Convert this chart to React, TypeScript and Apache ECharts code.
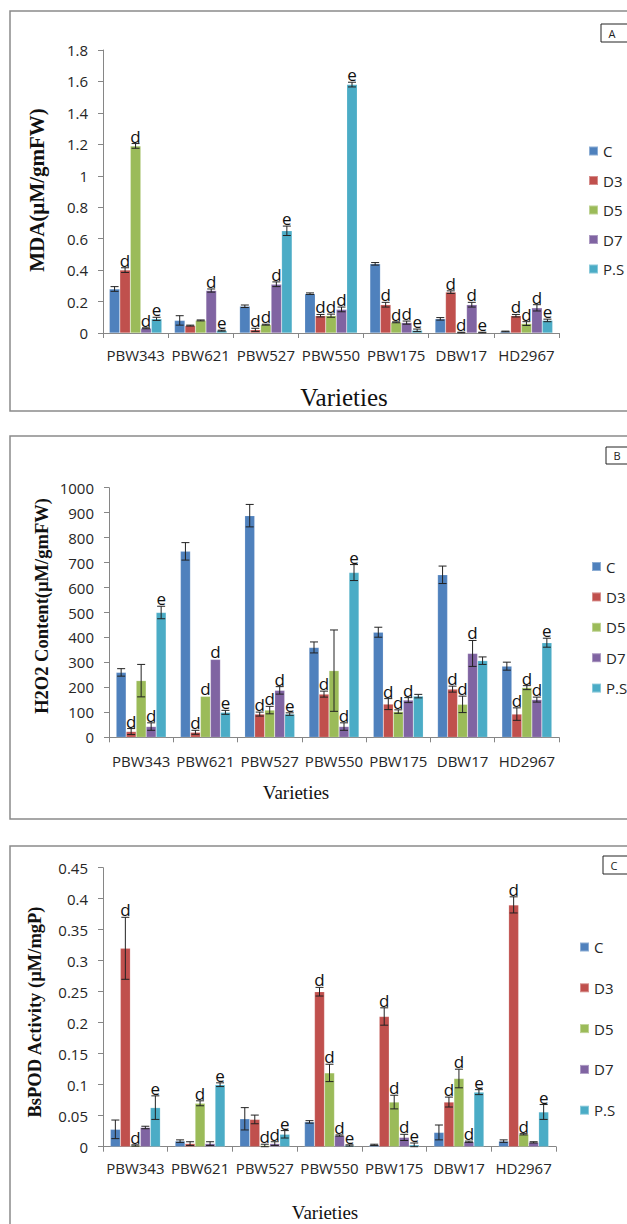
import React, { useEffect, useRef } from "react";
import * as echarts from "echarts";

const categories = ["PBW343", "PBW621", "PBW527", "PBW550", "PBW175", "DBW17", "HD2967"];
const treatments = ["C", "D3", "D5", "D7", "P.S"];
const colors = ["#4F81BD", "#C0504D", "#9BBB59", "#8064A2", "#4BACC6"];

// Panel A: MDA
const mdaC = [0.28, 0.08, 0.17, 0.25, 0.44, 0.09, 0.01];
const mdaD3 = [0.4, 0.047, 0.02, 0.11, 0.18, 0.26, 0.11];
const mdaD5 = [1.19, 0.08, 0.053, 0.11, 0.068, 0.003, 0.06];
const mdaD7 = [0.03, 0.27, 0.31, 0.15, 0.066, 0.18, 0.16];
const mdaPS = [0.09, 0.015, 0.65, 1.58, 0.017, 0.003, 0.08];
const mdaCErr = [0.015, 0.03, 0.008, 0.005, 0.008, 0.008, 0.002];
const mdaD3Err = [0.015, 0.003, 0.01, 0.008, 0.015, 0.008, 0.008];
const mdaD5Err = [0.015, 0.003, 0.003, 0.01, 0.003, 0.002, 0.012];
const mdaD7Err = [0.003, 0.01, 0.015, 0.015, 0.01, 0.015, 0.02];
const mdaPSErr = [0.01, 0.003, 0.03, 0.015, 0.008, 0.002, 0.008];
const mdaCLab = ["", "", "", "", "", "", ""];
const mdaD3Lab = ["d", "", "d", "d", "d", "d", "d"];
const mdaD5Lab = ["d", "", "d", "d", "d", "d", "d"];
const mdaD7Lab = ["d", "d", "d", "d", "d", "d", "d"];
const mdaPSLab = ["e", "e", "e", "e", "e", "e", "e"];

// Panel B: H2O2
const hC = [260, 745, 888, 360, 421, 651, 285];
const hD3 = [23, 20, 93, 173, 133, 193, 93];
const hD5 = [227, 164, 109, 267, 103, 132, 199];
const hD7 = [43, 312, 188, 43, 149, 336, 151];
const hPS = [500, 100, 93, 660, 165, 307, 379];
const hCErr = [15, 35, 45, 22, 20, 35, 16];
const hD3Err = [12, 8, 8, 12, 22, 12, 25];
const hD5Err = [65, 0, 15, 163, 7, 33, 8];
const hD7Err = [15, 0, 15, 15, 10, 52, 10];
const hPSErr = [25, 8, 5, 32, 7, 15, 18];
const hCLab = ["", "", "", "", "", "", ""];
const hD3Lab = ["d", "d", "d", "d", "d", "d", "d"];
const hD5Lab = ["", "d", "d", "", "d", "d", "d"];
const hD7Lab = ["d", "d", "d", "d", "d", "d", "d"];
const hPSLab = ["e", "e", "e", "e", "", "", "e"];

// Panel C: BsPOD
const pC = [0.028, 0.009, 0.045, 0.04, 0.003, 0.023, 0.009];
const pD3 = [0.32, 0.005, 0.044, 0.25, 0.21, 0.072, 0.39];
const pD5 = [0.002, 0.07, 0.002, 0.119, 0.072, 0.11, 0.02];
const pD7 = [0.031, 0.005, 0.005, 0.018, 0.015, 0.008, 0.007];
const pPS = [0.063, 0.1, 0.02, 0.002, 0.003, 0.088, 0.056];
const pCErr = [0.015, 0.002, 0.018, 0.002, 0.001, 0.012, 0.002];
const pD3Err = [0.05, 0.003, 0.007, 0.007, 0.014, 0.008, 0.013];
const pD5Err = [0.001, 0.004, 0.002, 0.014, 0.011, 0.015, 0.001];
const pD7Err = [0.002, 0.003, 0.003, 0.001, 0.005, 0.001, 0.001];
const pPSErr = [0.019, 0.003, 0.006, 0.001, 0.003, 0.004, 0.012];
const pCLab = ["", "", "", "", "", "", ""];
const pD3Lab = ["d", "", "", "d", "d", "d", "d"];
const pD5Lab = ["d", "d", "d", "d", "d", "d", "d"];
const pD7Lab = ["", "", "d", "d", "d", "d", ""];
const pPSLab = ["e", "e", "e", "e", "e", "e", "e"];

const SANS = "'Open Sans', 'Noto Sans', sans-serif";
const SERIF = "'Liberation Serif', 'Times New Roman', serif";
const AXIS_COLOR = "#868686";
const TEXT_COLOR = "#262626";

type Panel = {
  values: number[][];
  errors: number[][];
  labels: string[][];
  max: number;
  interval: number;
  grid: { left: number; top: number; width: number; height: number };
  barWidth: number;
  catMargin: number;
  legend: { left: number; top: number; gap: number };
};

const panels: Panel[] = [
  {
    values: [mdaC, mdaD3, mdaD5, mdaD7, mdaPS],
    errors: [mdaCErr, mdaD3Err, mdaD5Err, mdaD7Err, mdaPSErr],
    labels: [mdaCLab, mdaD3Lab, mdaD5Lab, mdaD7Lab, mdaPSLab],
    max: 1.8,
    interval: 0.2,
    grid: { left: 103, top: 50, width: 456, height: 283 },
    barWidth: 10.5,
    catMargin: 14,
    legend: { left: 588, top: 143.5, gap: 14.5 },
  },
  {
    values: [hC, hD3, hD5, hD7, hPS],
    errors: [hCErr, hD3Err, hD5Err, hD7Err, hPSErr],
    labels: [hCLab, hD3Lab, hD5Lab, hD7Lab, hPSLab],
    max: 1000,
    interval: 100,
    grid: { left: 109, top: 487.7, width: 450, height: 249.6 },
    barWidth: 10,
    catMargin: 16,
    legend: { left: 591, top: 559, gap: 15.4 },
  },
  {
    values: [pC, pD3, pD5, pD7, pPS],
    errors: [pCErr, pD3Err, pD5Err, pD7Err, pPSErr],
    labels: [pCLab, pD3Lab, pD5Lab, pD7Lab, pPSLab],
    max: 0.45,
    interval: 0.05,
    grid: { left: 103, top: 867.7, width: 453, height: 279 },
    barWidth: 10,
    catMargin: 14,
    legend: { left: 579, top: 939.5, gap: 25.8 },
  },
];

const yTitles = ["MDA(µM/gmFW)", "H2O2 Content(µM/gmFW)", "BsPOD Activity (µM/mgP)"];
const panelLetters = ["A", "B", "C"];

function buildOption() {
  const grids: any[] = [];
  const xAxes: any[] = [];
  const yAxes: any[] = [];
  const legends: any[] = [];
  const series: any[] = [];

  panels.forEach((p, pi) => {
    grids.push({ ...p.grid, containLabel: false });
    xAxes.push({
      type: "category",
      gridIndex: pi,
      data: categories,
      axisLine: { lineStyle: { color: AXIS_COLOR, width: 1 } },
      axisTick: { show: true, length: 5, lineStyle: { color: AXIS_COLOR } },
      axisLabel: { color: TEXT_COLOR, fontSize: 15, fontFamily: SANS, margin: p.catMargin, interval: 0 },
      splitLine: { show: false },
    });
    yAxes.push({
      type: "value",
      gridIndex: pi,
      min: 0,
      max: p.max,
      interval: p.interval,
      axisLine: { show: true, lineStyle: { color: AXIS_COLOR, width: 1 } },
      axisTick: { show: true, length: 5, lineStyle: { color: AXIS_COLOR } },
      axisLabel: {
        color: TEXT_COLOR,
        fontSize: 15,
        fontFamily: SANS,
        margin: 15,
        formatter: (v: number) => String(parseFloat(v.toFixed(3))),
      },
      splitLine: { show: false },
    });
    legends.push({
      data: treatments,
      orient: "vertical",
      left: p.legend.left,
      top: p.legend.top,
      padding: 0,
      itemGap: p.legend.gap,
      itemWidth: 9,
      itemHeight: 9,
      icon: "rect",
      selectedMode: false,
      textStyle: { fontSize: 15, lineHeight: 15, fontFamily: SANS, color: TEXT_COLOR },
    });

    treatments.forEach((t, si) => {
      series.push({
        type: "bar",
        name: t,
        xAxisIndex: pi,
        yAxisIndex: pi,
        data: p.values[si],
        barWidth: p.barWidth,
        barGap: "0%",
        itemStyle: { color: colors[si], borderColor: "rgba(255,255,255,0.35)", borderWidth: 0.5 },
        emphasis: { disabled: true },
        z: 2,
      });
    });

    const items: { cat: number; s: number; val: number; err: number; lab: string }[] = [];
    treatments.forEach((_t, si) => {
      categories.forEach((_c, ci) => {
        items.push({ cat: ci, s: si, val: p.values[si][ci], err: p.errors[si][ci], lab: p.labels[si][ci] });
      });
    });
    const bw = p.barWidth;
    series.push({
      type: "custom",
      name: "errors" + pi,
      xAxisIndex: pi,
      yAxisIndex: pi,
      silent: true,
      clip: false,
      z: 5,
      data: items.map((it) => [it.cat, it.val + it.err]),
      encode: { x: 0, y: 1 },
      renderItem: (params: any, api: any) => {
        const it = items[params.dataIndex];
        const base = api.coord([it.cat, it.val]);
        const cx = base[0] + (it.s - 2) * bw;
        const topY = api.coord([it.cat, it.val + it.err])[1];
        const botY = api.coord([it.cat, Math.max(0, it.val - it.err)])[1];
        const children: any[] = [];
        if (it.err > 0) {
          const half = 4;
          const ls = { stroke: "#222", lineWidth: 1 };
          children.push({ type: "line", shape: { x1: cx, y1: topY, x2: cx, y2: botY }, style: ls });
          children.push({ type: "line", shape: { x1: cx - half, y1: topY, x2: cx + half, y2: topY }, style: ls });
          children.push({ type: "line", shape: { x1: cx - half, y1: botY, x2: cx + half, y2: botY }, style: ls });
        }
        if (it.lab) {
          children.push({
            type: "text",
            x: cx,
            y: Math.min(topY, base[1]) + 1,
            style: {
              text: it.lab,
              fill: "#111",
              font: `17px ${SANS}`,
              textAlign: "center",
              textVerticalAlign: "bottom",
              align: "center",
              verticalAlign: "bottom",
            },
          });
        }
        return { type: "group", children };
      },
    });
  });

  const frame = { stroke: "#8a8a8a", lineWidth: 1.5, fill: "none" };
  const graphic: any[] = [
    { type: "rect", shape: { x: 10, y: 11, width: 640, height: 400 }, style: frame, z: -1 },
    { type: "rect", shape: { x: 10, y: 436, width: 640, height: 383 }, style: frame, z: -1 },
    { type: "rect", shape: { x: 10, y: 846, width: 640, height: 400 }, style: frame, z: -1 },
  ];
  const letterBoxes = [
    { x: 601, y: 24, h: 18 },
    { x: 606, y: 447, h: 17 },
    { x: 603, y: 856, h: 18 },
  ];
  letterBoxes.forEach((b, i) => {
    graphic.push({
      type: "rect",
      shape: { x: b.x, y: b.y, width: 40, height: b.h },
      style: { stroke: "#222", lineWidth: 1, fill: "#fff" },
      z: 1,
    });
    graphic.push({
      type: "text",
      x: b.x + 11,
      y: b.y + b.h / 2,
      style: {
        text: panelLetters[i],
        font: `11px ${SANS}`,
        fill: "#222",
        textAlign: "center",
        textVerticalAlign: "middle",
      },
      z: 2,
    });
  });
  const titles = [
    { x: 37, y: 190, size: 21 },
    { x: 42, y: 606, size: 18.5 },
    { x: 35, y: 1012, size: 18.5 },
  ];
  titles.forEach((t, i) => {
    graphic.push({
      type: "text",
      x: t.x,
      y: t.y,
      rotation: Math.PI / 2,
      style: {
        text: yTitles[i],
        font: `bold ${t.size}px ${SERIF}`,
        fill: "#111",
        textAlign: "center",
        textVerticalAlign: "middle",
      },
    });
  });
  const varieties = [
    { x: 344, y: 397, size: 25 },
    { x: 296, y: 792, size: 19 },
    { x: 325, y: 1212, size: 19 },
  ];
  varieties.forEach((v) => {
    graphic.push({
      type: "text",
      x: v.x,
      y: v.y,
      style: {
        text: "Varieties",
        font: `${v.size}px ${SERIF}`,
        fill: "#111",
        textAlign: "center",
        textVerticalAlign: "middle",
      },
    });
  });

  return {
    animation: false,
    backgroundColor: "#ffffff",
    grid: grids,
    xAxis: xAxes,
    yAxis: yAxes,
    legend: legends,
    series,
    graphic,
  };
}

export default function App() {
  const ref = useRef<HTMLDivElement>(null);
  useEffect(() => {
    if (!ref.current) return;
    const chart = echarts.init(ref.current, undefined, { renderer: "svg" });
    chart.setOption(buildOption() as any);
    return () => chart.dispose();
  }, []);
  return (
    <div
      ref={ref}
      style={{ position: "absolute", left: 0, top: 0, width: 627, height: 1224, background: "#fff" }}
    />
  );
}
